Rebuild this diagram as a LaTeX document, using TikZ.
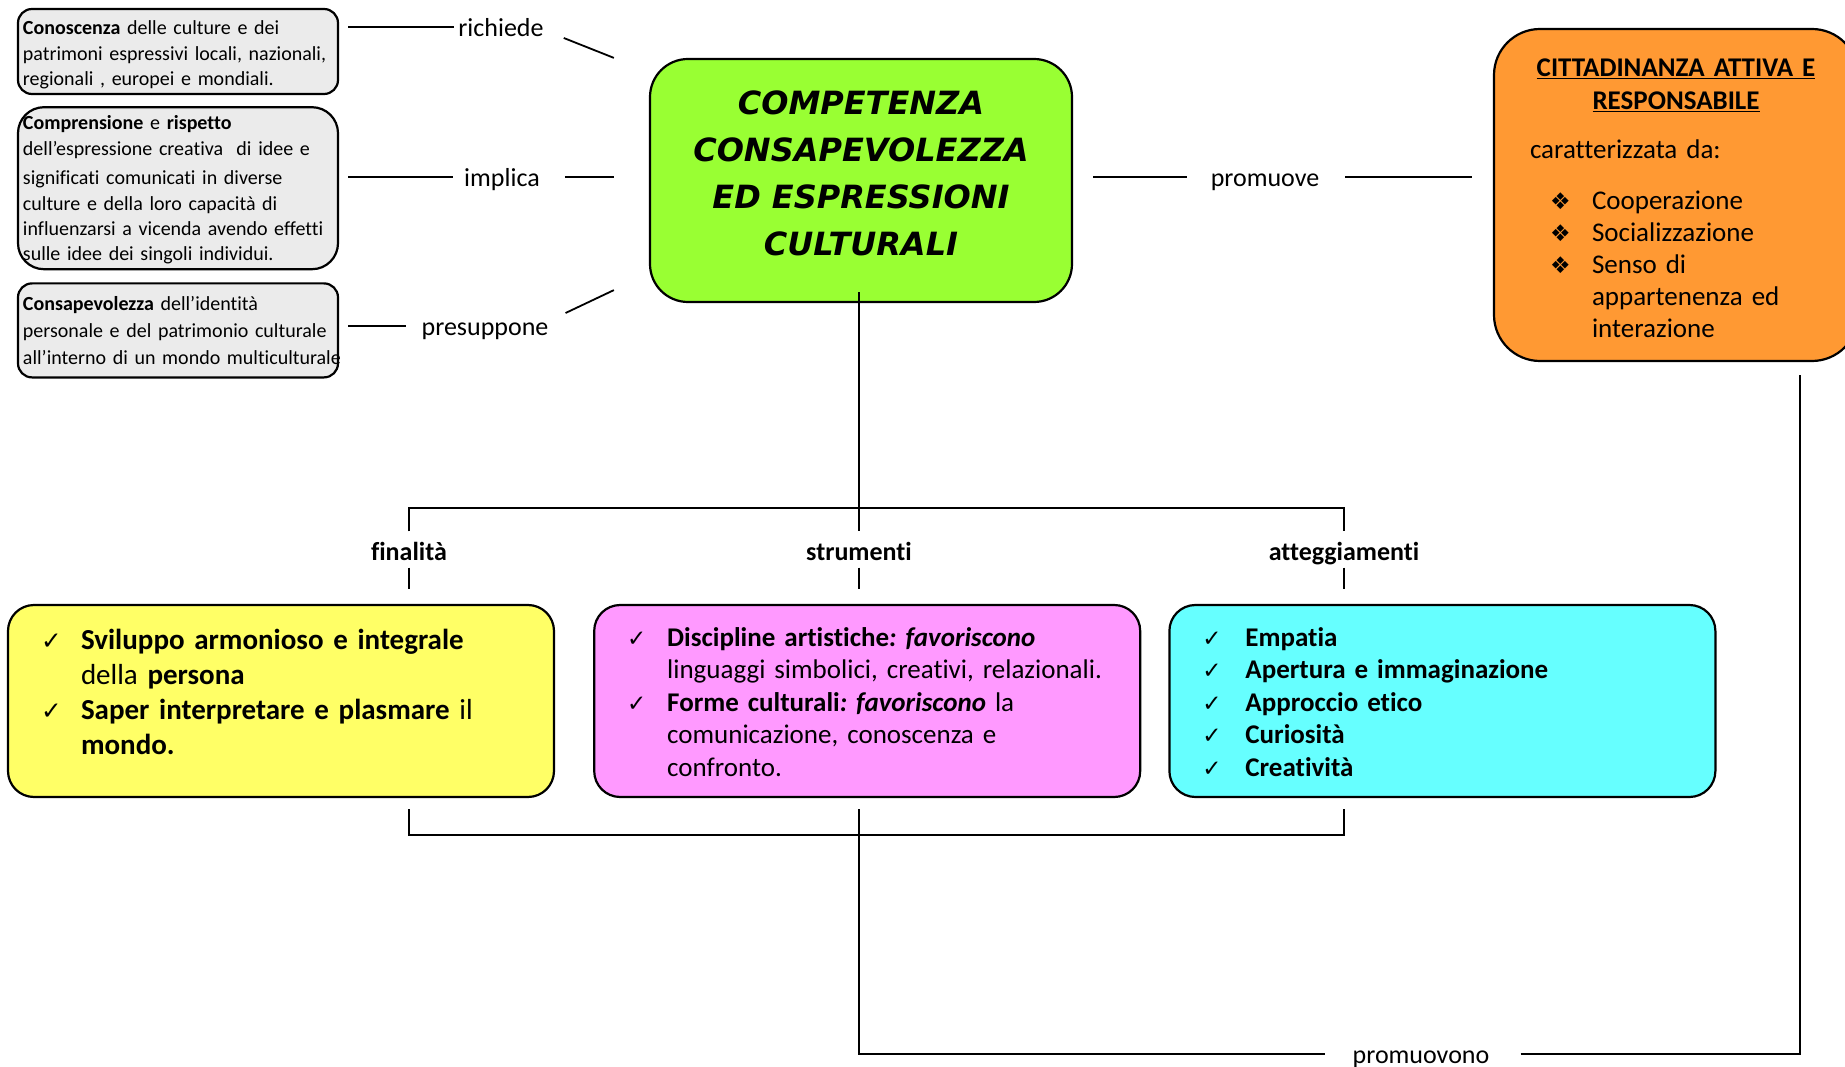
\documentclass[tikz,border=0pt]{standalone}
\usepackage{fontspec}
\setmainfont{Carlito}[Ligatures={TeX,NoCommon}]
\newfontfamily\titlefont{DejaVu Sans}
\newfontfamily\symfont[Scale=0.85]{DejaVu Sans}
\usetikzlibrary{positioning}

\definecolor{notegray}{HTML}{EBEBEB}
\definecolor{coregreen}{HTML}{99FF33}
\definecolor{civicorange}{HTML}{FF9933}
\definecolor{aimyellow}{HTML}{FFFF66}
\definecolor{toolpink}{HTML}{FF99FF}
\definecolor{attcyan}{HTML}{66FFFF}

\newlength\ckw
\setlength\ckw{40pt}
\newcommand{\markitem}[3]{\par\hangindent=\dimexpr#1+\ckw\relax\hangafter=1\noindent\hspace*{#1}\makebox[\ckw][l]{\symfont #2}#3\par}
\newcommand{\ckitem}[1]{\markitem{0pt}{✓}{#1}}
\newcommand{\dmitem}[1]{\setlength\ckw{42pt}\markitem{20pt}{❖}{#1}}
\newcommand{\padbelow}[1]{\par\kern#1\relax}

\begin{document}
\begin{tikzpicture}[x=1pt,y=1pt,
  box/.style={draw, line width=2.2pt, align=left},
  note/.style={box, fill=notegray, rounded corners=14pt, text width=310pt,
    inner xsep=5pt, inner ysep=0pt, font=\fontsize{20}{25.4}\selectfont},
  verb/.style={inner sep=0pt, text height=22pt, text depth=3pt,
    font=\fontsize{26}{30}\selectfont},
  branch/.style={verb, font=\bfseries\fontsize{26}{30}\selectfont},
  list/.style={box, rounded corners=26pt, text width=480pt, inner xsep=33pt,
    minimum height=192pt, font=\fontsize{27}{32.5}\selectfont},
  wire/.style={line width=1.8pt}]
  \useasboundingbox (0,0) rectangle (1845,-1067);
  \clip (0,0) rectangle (1845,-1067);

  % central competence
  \node (core)
        [box, fill=coregreen, rounded corners=38pt, align=center,
         minimum width=422pt, minimum height=243pt, text depth=14pt,
         font=\titlefont\bfseries\itshape\fontsize{32}{47}\selectfont]
        at (861,-180.5)
        {COMPETENZA\\CONSAPEVOLEZZA\\ED ESPRESSIONI\\CULTURALI};

  % left notes
  \node (know)
        [note, minimum height=85pt]
        at (178,-51.5)
        {\textbf{Conoscenza} delle culture e dei\\
         patrimoni espressivi locali, nazionali,\\
         regionali , europei e mondiali.\padbelow{-7pt}};
  \node (understand)
        [note, rounded corners=26pt, minimum height=162pt, below=11pt of know]
        {\textbf{Comprensione} e \textbf{rispetto}\\
         dell’espressione creativa\ \ di idee e\\[4pt]
         significati comunicati in diverse\\
         culture e della loro capacità di\\
         influenzarsi a vicenda avendo effetti\\
         sulle idee dei singoli individui.\padbelow{-4pt}};
  \node (aware)
        [note, minimum height=94pt, below=12pt of understand,
         font=\fontsize{20}{27}\selectfont]
        {\textbf{Consapevolezza} dell’identità\\
         personale e del patrimonio culturale\\
         \mbox{all’interno di un mondo multiculturale}};

  \node (ask) [verb] at (501,-27) {richiede};
  \node (imply) [verb] at (502,-177) {implica};
  \node (assume) [verb] at (485,-326) {presuppone};

  % right: citizenship
  \node (civic)
        [box, fill=civicorange, rounded corners=46pt, text width=292pt,
         inner xsep=36pt, minimum height=332pt, font=\fontsize{27}{32}\selectfont]
        at (1676,-195)
        {{\centering\bfseries\fontsize{27}{33}\selectfont
          \underline{CITTADINANZA ATTIVA E}\par
          \underline{RESPONSABILE}\par}
         \vspace{17pt}
         caratterizzata da:\par
         \vspace{19pt}
         \dmitem{Cooperazione}
         \dmitem{Socializzazione}
         \dmitem{Senso di\newline appartenenza ed\newline interazione}
         \padbelow{-7pt}};
  \node (promote) [verb] at (1265,-177) {promuove};

  % branches
  \coordinate (bus) at (859,-508);
  \node (aimlab) [branch] at (409,-551) {finalità};
  \node (toollab) [branch] at (859,-551) {strumenti};
  \node (attlab) [branch] at (1344,-551) {atteggiamenti};

  \node (aim)
        [list, fill=aimyellow, font=\fontsize{29}{35}\selectfont]
        at (281,-701)
        {\ckitem{\textbf{Sviluppo armonioso e integrale}\newline della \textbf{persona}}
         \ckitem{\textbf{Saper interpretare e plasmare} il\newline \textbf{mondo.}}
         \padbelow{33pt}};
  \node (tool)
        [list, fill=toolpink, right=38pt of aim]
        {\ckitem{\textbf{Discipline artistiche\textit{:}\ \textit{favoriscono}}\newline
                 linguaggi simbolici, creativi, relazionali.}
         \ckitem{\textbf{Forme culturali\textit{:}\ \textit{favoriscono}} la\newline
                 comunicazione, conoscenza e\newline confronto.}
         \padbelow{12pt}};
  \node (att)
        [list, fill=attcyan, right=27pt of tool]
        {\setlength\ckw{43pt}
         \ckitem{\textbf{Empatia}}
         \ckitem{\textbf{Apertura e immaginazione}}
         \ckitem{\textbf{Approccio etico}}
         \ckitem{\textbf{Curiosità}}
         \ckitem{\textbf{Creatività}}
         \padbelow{12pt}};

  \coordinate (lowbus) at (859,-835);
  \node (promote2) [verb] at (1421,-1054) {promuovono};

  \draw[wire] ([xshift=9pt]know.east |- ask.west) -- ([xshift=-4pt]ask.west);
  \draw[wire] ([shift={(20pt,-11pt)}]ask.east) -- ([xshift=-35pt]core.north west);
  \draw[wire] ([xshift=9pt]understand.east |- imply.west) -- ([xshift=-11pt]imply.west);
  \draw[wire] ([xshift=25pt]imply.east) -- ([xshift=-35pt]core.west |- imply.east);
  \draw[wire] ([xshift=9pt]aware.east |- assume.west) -- ([xshift=-15pt]assume.west);
  \draw[wire] ([shift={(17pt,13pt)}]assume.east) -- ([shift={(-35pt,13pt)}]core.south west);
  \draw[wire] ([xshift=20pt]core.east |- promote.west) -- ([xshift=-24pt]promote.west);
  \draw[wire] ([xshift=26pt]promote.east) -- ([xshift=-21pt]civic.west |- promote.east);

  \draw[wire] ([yshift=11pt]core.south -| bus) -- ([yshift=7pt]toollab.north);
  \draw[wire] ([yshift=7pt]aimlab.north) |- (bus) -| ([yshift=7pt]attlab.north);
  \foreach \lab in {aimlab,toollab,attlab}
    \draw[wire] ([yshift=-4pt]\lab.south) -- ++(0,-21pt);

  \draw[wire] ([yshift=-11pt]aim.south -| aimlab) |- (lowbus)
              -| ([yshift=-11pt]att.south -| attlab);
  \draw[wire] ([yshift=-11pt]tool.south -| toollab) |- ([xshift=-28pt]promote2.west);
  \draw[wire] ([xshift=31pt]promote2.east) -| ([shift={(124pt,-13pt)}]civic.south);
\end{tikzpicture}
\end{document}
